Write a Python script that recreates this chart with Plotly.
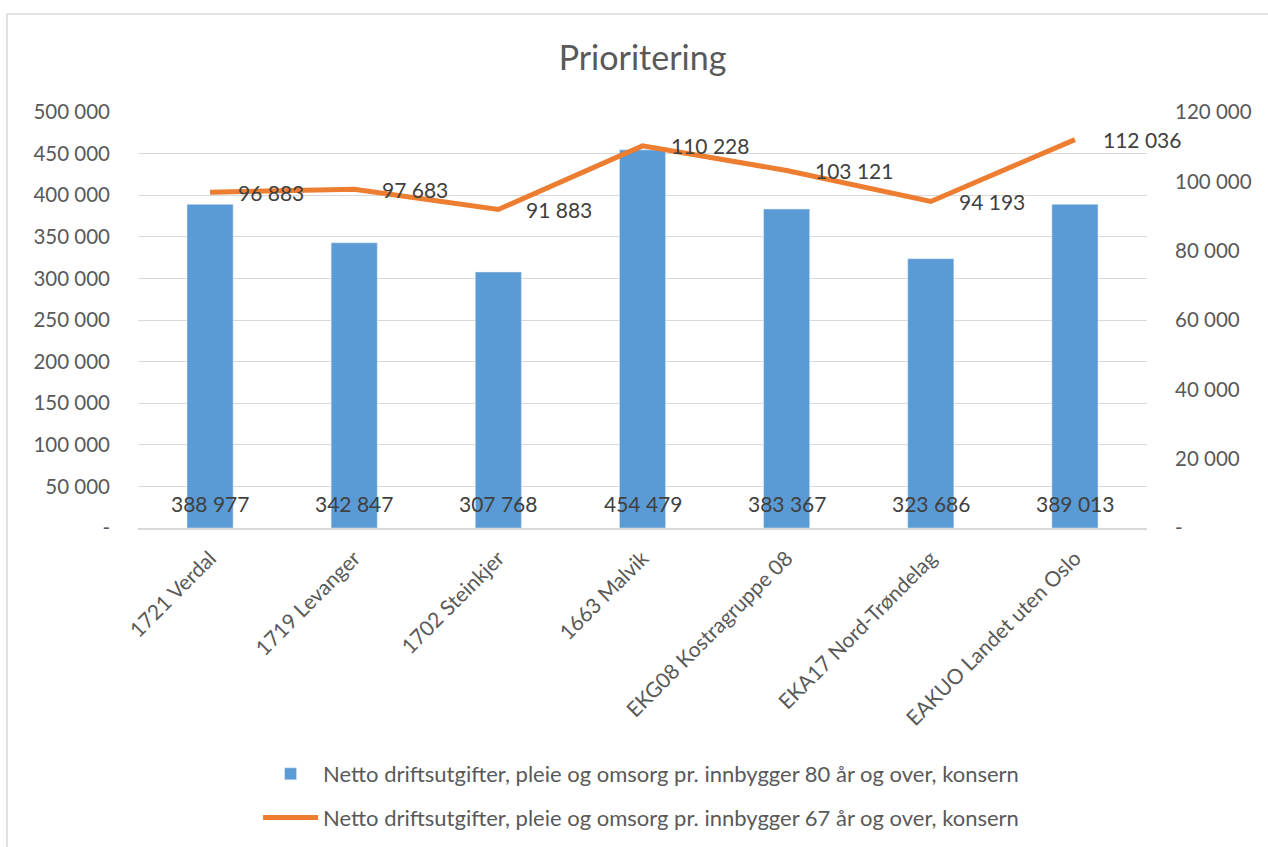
import plotly.graph_objects as go

categories = ["1721 Verdal", "1719 Levanger", "1702 Steinkjer", "1663 Malvik",
              "EKG08 Kostragruppe 08", "EKA17 Nord-Trøndelag", "EAKUO Landet uten Oslo"]
bar_values = [388977, 342847, 307768, 454479, 383367, 323686, 389013]
line_values = [96883, 97683, 91883, 110228, 103121, 94193, 112036]
bar_name = "Netto driftsutgifter, pleie og omsorg pr. innbygger 80 år og over, konsern"
line_name = "Netto driftsutgifter, pleie og omsorg pr. innbygger 67 år og over, konsern"
title_text = "Prioritering"
left_tickvals = [0, 50000, 100000, 150000, 200000, 250000, 300000, 350000, 400000, 450000, 500000]
left_ticktext = ["-", "50 000", "100 000", "150 000", "200 000", "250 000", "300 000",
                 "350 000", "400 000", "450 000", "500 000"]
right_tickvals = [0, 20000, 40000, 60000, 80000, 100000, 120000]
right_ticktext = ["-", "20 000", "40 000", "60 000", "80 000", "100 000", "120 000"]


def fmt(v):
    return f"{v:,}".replace(",", " ")


FONT = "Lato"
AXIS_COLOR = "#595959"
LABEL_COLOR = "#404040"
BLUE = "#5B9BD5"
ORANGE = "#ED7D31"

fig = go.Figure()
fig.add_trace(go.Bar(
    x=categories, y=bar_values, name=bar_name, marker_color=BLUE,
    legendgroup="a", yaxis="y",
))
fig.add_trace(go.Scatter(
    x=categories, y=line_values, name=line_name, mode="lines",
    line=dict(color=ORANGE, width=5), legendgroup="b", yaxis="y2",
))

annotations = []
for c, v in zip(categories, bar_values):
    annotations.append(dict(x=c, y=0, xref="x", yref="y", text=fmt(v), showarrow=False,
                            yanchor="middle", yshift=25,
                            font=dict(family=FONT, size=21, color=LABEL_COLOR)))
for c, v in zip(categories, line_values):
    annotations.append(dict(x=c, y=v, xref="x", yref="y2", text=fmt(v), showarrow=False,
                            xanchor="left", xshift=26, yanchor="middle",
                            font=dict(family=FONT, size=21, color=LABEL_COLOR)))

fig.update_layout(
    width=1268, height=847,
    margin=dict(l=138, r=121, t=112, b=319, autoexpand=False),
    paper_bgcolor="white", plot_bgcolor="white",
    font=dict(family=FONT, color=AXIS_COLOR, size=20),
    title=dict(text=title_text, x=0.5, xref="paper", xanchor="center", y=0.9315,
               yanchor="middle", font=dict(family=FONT, size=34, color=AXIS_COLOR)),
    bargap=0.68,
    showlegend=True,
    legend=dict(orientation="v", x=0.119, xanchor="left", xref="paper",
                y=0.111, yanchor="top", yref="container",
                font=dict(family=FONT, size=22, color=AXIS_COLOR), tracegroupgap=12,
                itemwidth=55, bgcolor="rgba(0,0,0,0)"),
    xaxis=dict(tickangle=-45, showgrid=False, showline=True, linecolor="#D9D9D9",
               linewidth=1.5, ticks="", ticklabelstandoff=8, automargin=False,
               range=[-0.5, len(categories) - 0.5],
               tickfont=dict(family=FONT, size=21, color=AXIS_COLOR)),
    yaxis=dict(range=[0, 500000], tickvals=left_tickvals, ticktext=left_ticktext,
               showgrid=True, gridcolor="#D9D9D9", gridwidth=1.2, zeroline=False,
               showline=False, ticks="", ticklabelstandoff=27, automargin=False,
               tickfont=dict(family=FONT, size=20.5, color=AXIS_COLOR)),
    yaxis2=dict(range=[0, 120000], tickvals=right_tickvals, ticktext=right_ticktext,
                overlaying="y", side="right", showgrid=False, zeroline=False,
                showline=False, ticks="", ticklabelstandoff=27, automargin=False,
                tickfont=dict(family=FONT, size=20.5, color=AXIS_COLOR)),
    annotations=annotations,
    shapes=[dict(type="rect", xref="paper", yref="paper", x0=-0.1298, x1=1.3, y0=-1.5, y1=1.2356,
                 line=dict(color="#D9D9D9", width=1.5), fillcolor="rgba(0,0,0,0)", layer="below")],
)

fig.write_html("out.html", config={"displayModeBar": False},
               post_script="document.body.style.margin='0';")
